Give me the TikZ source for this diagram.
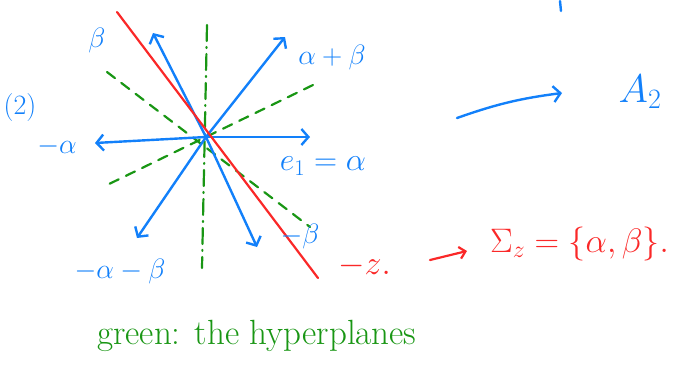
\RequirePackage{fix-cm}
\documentclass[tikz,border=0pt]{standalone}
\usepackage{amsmath}
\usetikzlibrary{arrows.meta}
\usepackage{xcolor}
\definecolor{rootblue}{RGB}{18,128,250}
\definecolor{zred}{RGB}{250,40,40}
\definecolor{hgreen}{RGB}{25,150,20}

\begin{document}
\begin{tikzpicture}[x=1pt, y=-1pt, line cap=round,
    root/.style={rootblue, line width=2.4pt, -{Straight Barb[length=7pt,width=16pt]}},
    hyp/.style={hgreen, line width=2.2pt, dash pattern=on 10pt off 8pt},
    lbl/.style={inner sep=0pt, font=\fontsize{28}{32}\selectfont}]
    \useasboundingbox (0,0) rectangle (675,381);
    \coordinate (o) at (206,137);
    % hyperplanes
    \coordinate (h1) at (207,25);
    \coordinate (h2) at (202,268);
    \coordinate (h3) at (107,72);
    \coordinate (h4) at (310,227);
    \coordinate (h5) at (313,85);
    \coordinate (h6) at (107,185);
        \draw[hyp, dash pattern=on 16pt off 6pt on 1pt off 6pt] (h1) -- (h2);
        \draw[hyp] (h3) -- (h4);
        \draw[hyp] (h5) -- (h6);
    % roots
    \coordinate (a) at (310,137);
    \coordinate (ma) at (95,143);
    \coordinate (b) at (153,33);
    \coordinate (ab) at (285,37);
    \coordinate (mab) at (137,238);
    \coordinate (mb) at (257,247);
        \foreach \r in {a,ma,b,ab,mab,mb} \draw[root] (o) -- (\r);
    % the line of z
    \coordinate (z1) at (117,12);
    \coordinate (z2) at (318,278);
        \draw[zred, line width=2.2pt] (z1) -- (z2);
    \node[lbl, rootblue] (lb) at (97,40) {$\beta$};
    \node[lbl, rootblue] (lab) at (332,57) {$\alpha+\beta$};
    \node[lbl, rootblue] (two) at (20,108) {(2)};
    \node[lbl, rootblue] (lma) at (57,146) {$-\alpha$};
    \node[lbl, rootblue, font=\fontsize{32}{36}\selectfont] (la) at (323,166) {$e_1=\alpha$};
    \node[lbl, rootblue] (lmb) at (300,236) {$-\beta$};
    \node[lbl, rootblue] (lmab) at (120,271) {$-\alpha-\beta$};
    \node[lbl, zred, anchor=west, font=\fontsize{34}{38}\selectfont] (mz) at (338,266) {$-z.$};
    \node[lbl, zred, anchor=west, font=\fontsize{34}{38}\selectfont] (sig) at (490,244) {$\Sigma_z=\{\alpha,\beta\}.$};
    \coordinate (r1) at (430,260);
    \coordinate (r2) at (467,251);
        \draw[zred, line width=2.2pt, -{Straight Barb[length=6pt,width=12pt]}] (r1) -- (r2);
    \node[lbl, rootblue, font=\fontsize{40}{44}\selectfont] (A) at (640,92) {$A_2$};
    \coordinate (p) at (457,118);
    \coordinate (q) at (562,93);
        \draw[root] (p) to[bend left=6] (q);
        \draw[rootblue, line width=2.4pt] (560,1) -- (561,11);
    \node[lbl, hgreen, anchor=west, font=\fontsize{35}{40}\selectfont] (g) at (97,336) {green: the hyperplanes};
\end{tikzpicture}
\end{document}
